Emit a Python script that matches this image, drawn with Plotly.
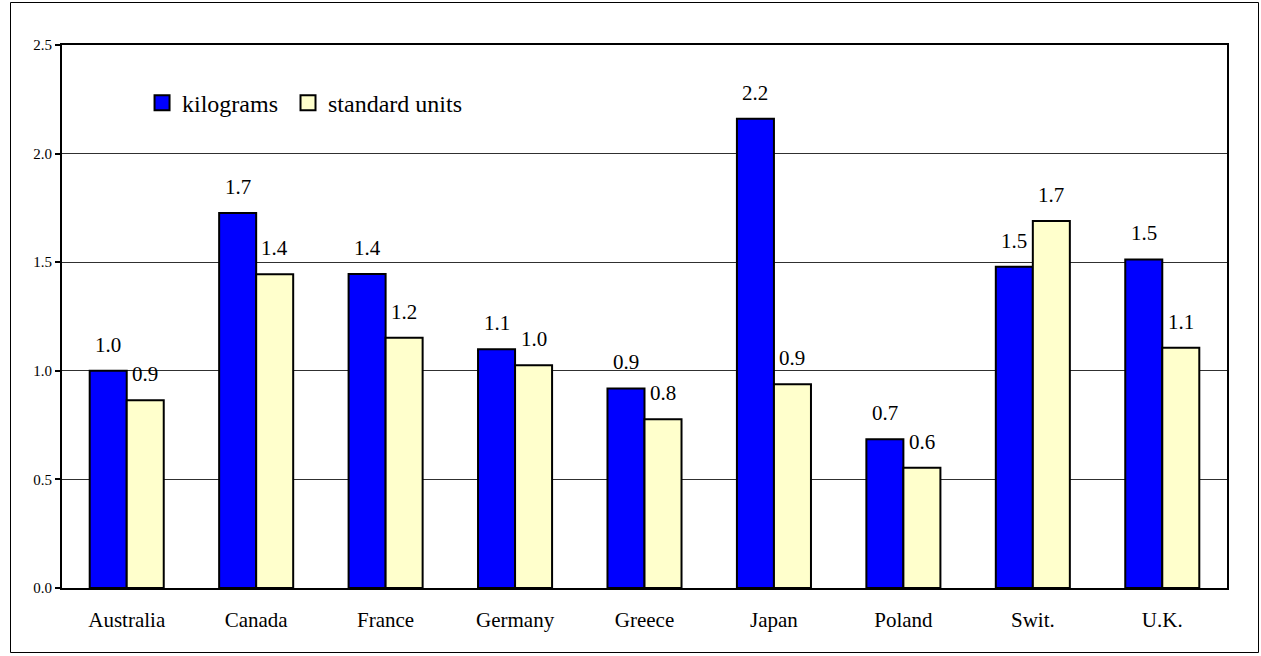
import plotly.graph_objects as go

countries = ["Australia", "Canada", "France", "Germany", "Greece",
             "Japan", "Poland", "Swit.", "U.K."]
kilograms = [1.00, 1.727, 1.446, 1.099, 0.919, 2.16, 0.685, 1.479, 1.513]
standard_units = [0.864, 1.444, 1.152, 1.025, 0.777, 0.938, 0.554, 1.69, 1.106]
y_ticks = [0.0, 0.5, 1.0, 1.5, 2.0, 2.5]

FONT = "Liberation Serif"
W, H = 1261, 656
M = dict(l=62, r=34, t=45, b=68)
BARGAP = 0.428
plot_w = W - M["l"] - M["r"]
plot_h = H - M["t"] - M["b"]

series = [
    ("kilograms", kilograms, "#0000FF", "legend", 0.0687),
    ("standard units", standard_units, "#FFFFCC", "legend2", 0.194),
]

fig = go.Figure()
for name, vals, color, _, _ in series:
    fig.add_trace(go.Bar(
        name=name, x=countries, y=vals, showlegend=False,
        marker=dict(color=color, line=dict(color="black", width=2)),
    ))
# legend entries with larger square swatches, one legend box per entry
for name, vals, color, leg, _ in series:
    fig.add_trace(go.Scatter(
        name=name, x=[None], y=[None], mode="markers", showlegend=True,
        legend=leg,
        marker=dict(symbol="square", size=15, color=color,
                    line=dict(color="black", width=2)),
    ))

# value labels above each bar, one decimal place
bar_px = plot_w / len(countries) * (1 - BARGAP) / 2
annotations = []
for (name, vals, *_), shift in zip(series, (-bar_px / 2, bar_px / 2)):
    for c, v in zip(countries, vals):
        annotations.append(dict(
            x=c, y=v, xref="x", yref="y", text=f"{v:.1f}",
            showarrow=False, xshift=shift, yshift=12, yanchor="bottom",
            font=dict(family=FONT, size=21, color="black"),
        ))

# thin frame around the whole figure (pixel edges converted to paper units)
frame = dict(
    type="rect", xref="paper", yref="paper",
    x0=(10.5 - M["l"]) / plot_w, x1=(1258.5 - M["l"]) / plot_w,
    y0=(H - M["b"] - 652.5) / plot_h, y1=(H - M["b"] - 2.5) / plot_h,
    line=dict(color="black", width=1), layer="below",
)

legend_style = dict(
    orientation="h", y=0.893, xanchor="left", yanchor="middle",
    font=dict(family=FONT, size=24, color="black"),
    bgcolor="rgba(0,0,0,0)",
)
fig.update_layout(
    width=W, height=H, margin=M,
    paper_bgcolor="white", plot_bgcolor="white",
    barmode="group", bargap=BARGAP, bargroupgap=0,
    font=dict(family=FONT, color="black"),
    showlegend=True,
    legend=dict(x=series[0][4], **legend_style),
    legend2=dict(x=series[1][4], **legend_style),
    annotations=annotations,
    shapes=[frame],
)

fig.update_yaxes(
    range=[0, 2.5], tickvals=y_ticks, ticktext=[f"{t:.1f}" for t in y_ticks],
    showline=True, linecolor="black", linewidth=2, mirror=True,
    ticks="outside", ticklen=5, tickwidth=1.5, tickcolor="black",
    showgrid=True, gridcolor="#303030", gridwidth=1,
    tickfont=dict(family=FONT, size=15, color="black"),
    zeroline=False, fixedrange=True,
)
fig.update_xaxes(
    showline=True, linecolor="black", linewidth=2, mirror=True,
    ticks="", ticklabelstandoff=12,
    tickfont=dict(family=FONT, size=21, color="black"),
    fixedrange=True,
)

fig.write_html("out.html")
